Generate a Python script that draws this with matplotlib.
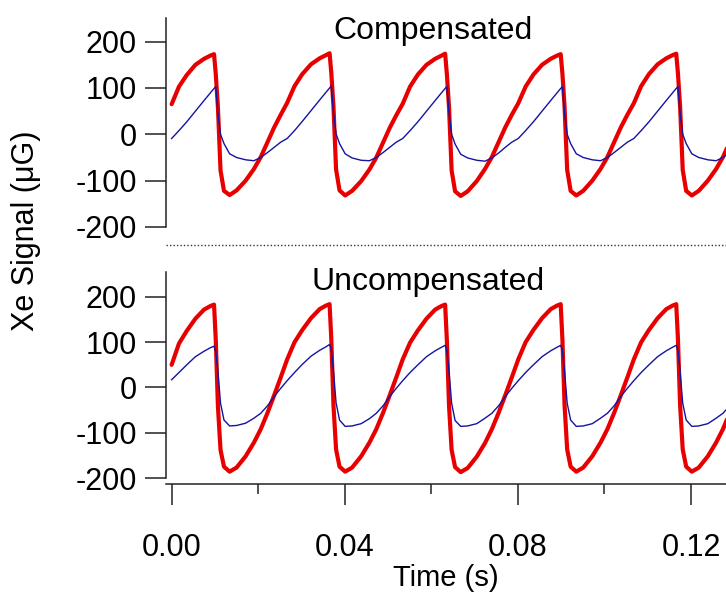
import matplotlib
matplotlib.use('Agg')
import matplotlib.pyplot as plt
from matplotlib.lines import Line2D
from matplotlib.ticker import MultipleLocator

plt.rcParams['font.family'] = ['Liberation Sans', 'DejaVu Sans']
plt.rcParams['axes.unicode_minus'] = False

# time axis (s), 5 drive cycles
t = [0.0000, 0.0017, 0.0035, 0.0055, 0.0075, 0.0090, 0.0098, 0.0102, 0.0107, 0.0113,
     0.0121, 0.0134, 0.0150, 0.0171, 0.0190, 0.0206, 0.0222, 0.0237, 0.0252,
     0.0267, 0.0284, 0.0302, 0.0322, 0.0342, 0.0357, 0.0365, 0.0369, 0.0374, 0.0380,
     0.0388, 0.0401, 0.0417, 0.0438, 0.0457, 0.0473, 0.0489, 0.0504, 0.0519,
     0.0534, 0.0551, 0.0569, 0.0589, 0.0609, 0.0624, 0.0632, 0.0636, 0.0641, 0.0647,
     0.0655, 0.0668, 0.0684, 0.0705, 0.0724, 0.0740, 0.0756, 0.0771, 0.0786,
     0.0801, 0.0818, 0.0836, 0.0856, 0.0876, 0.0891, 0.0899, 0.0903, 0.0908, 0.0914,
     0.0922, 0.0935, 0.0951, 0.0972, 0.0991, 0.1007, 0.1023, 0.1038, 0.1053,
     0.1068, 0.1085, 0.1103, 0.1123, 0.1143, 0.1158, 0.1166, 0.1170, 0.1175, 0.1181,
     0.1189, 0.1202, 0.1218, 0.1239, 0.1258, 0.1274, 0.1290]

# Compensated (uG)
comp_red = [65, 103, 128, 150, 163, 170, 173, 130, 58, -78,
            -122, -131, -121, -100, -75, -49, -16, 15, 42,
            68, 104, 130, 151, 164, 171, 175, 132, 60, -76,
            -121, -132, -122, -101, -76, -50, -17, 14, 41,
            66, 103, 129, 150, 163, 170, 174, 130, 58, -78,
            -123, -133, -123, -101, -75, -49, -16, 15, 42,
            67, 103, 129, 150, 163, 170, 173, 131, 59, -77,
            -122, -132, -122, -100, -75, -49, -16, 15, 42,
            67, 104, 130, 151, 164, 171, 174, 131, 59, -77,
            -122, -132, -122, -100, -75, -49, -16]
comp_blue = [-9, 8, 27, 50, 73, 90, 99, 103, 45, 0,
             -20, -42, -50, -55, -57, -50, -39, -28, -17,
             -9, 8, 28, 51, 74, 91, 100, 104, 46, 1,
             -20, -42, -51, -56, -57, -50, -39, -28, -17,
             -9, 8, 27, 50, 73, 90, 99, 103, 45, 0,
             -21, -43, -51, -56, -58, -51, -40, -28, -17,
             -9, 8, 27, 50, 73, 90, 99, 103, 45, 0,
             -20, -42, -50, -55, -57, -50, -39, -28, -17,
             -9, 8, 27, 50, 73, 90, 99, 103, 45, 0,
             -20, -42, -50, -55, -57, -50, -39]

# Uncompensated (uG)
unc_red = [50, 97, 125, 152, 172, 180, 183, 105, -42, -138,
           -175, -186, -177, -152, -122, -92, -55, -17, 22,
           62, 100, 127, 153, 173, 181, 184, 106, -40, -137,
           -175, -186, -177, -152, -122, -92, -55, -17, 22,
           62, 99, 126, 152, 172, 180, 183, 105, -41, -138,
           -176, -187, -178, -153, -123, -92, -55, -17, 22,
           62, 100, 127, 153, 173, 181, 184, 106, -40, -137,
           -175, -186, -177, -152, -122, -92, -55, -17, 22,
           62, 100, 127, 153, 173, 181, 184, 106, -40, -137,
           -175, -186, -177, -152, -122, -92, -55]
unc_blue = [17, 33, 50, 68, 80, 88, 91, 80, 35, -35,
            -72, -85, -84, -79, -68, -57, -40, -20, -2,
            15, 33, 51, 69, 82, 90, 95, 84, 36, -34,
            -72, -86, -85, -80, -69, -57, -40, -20, -2,
            15, 33, 50, 68, 81, 89, 93, 82, 35, -35,
            -73, -86, -85, -80, -68, -57, -40, -20, -2,
            15, 33, 50, 68, 81, 89, 93, 82, 35, -35,
            -72, -86, -85, -80, -68, -57, -40, -20, -2,
            15, 33, 50, 68, 81, 89, 93, 82, 35, -35,
            -72, -86, -85, -80, -68, -57, -40]

y_ticks = [-200, -100, 0, 100, 200]
x_ticks = [0.00, 0.04, 0.08, 0.12]
x_labels = ['0.00', '0.04', '0.08', '0.12']

RED = '#e80000'
BLUE = '#1414a0'
AXC = '#222222'

fig = plt.figure(figsize=(7.26, 5.97), dpi=100)
W, H = 726, 597

ax_top = fig.add_axes([166 / W, 1 - 227 / H, 560 / W, 209 / H])
ax_bot = fig.add_axes([166 / W, 1 - 478 / H, 560 / W, 206 / H], sharex=ax_top)

for ax, red, blue, ytop in [(ax_top, comp_red, comp_blue, 251), (ax_bot, unc_red, unc_blue, 255)]:
    ax.plot(t, red, color=RED, lw=3.0, zorder=2, solid_capstyle='round')
    ax.plot(t, blue, color=BLUE, lw=1.0, zorder=3)
    ax.set_ylim(-200, ytop)
    ax.set_yticks(y_ticks)
    ax.spines['top'].set_visible(False)
    ax.spines['right'].set_visible(False)
    ax.spines['left'].set_color(AXC)
    ax.spines['left'].set_linewidth(1.1)
    ax.tick_params(axis='y', direction='out', length=15, width=1.1, color=AXC,
                   labelsize=22, pad=6)

ax_top.set_xlim(-0.0013, 0.1281)
ax_top.spines['bottom'].set_visible(False)
ax_top.tick_params(axis='x', which='both', bottom=False, labelbottom=False)

ax_bot.spines['bottom'].set_position(('outward', 4.5))
ax_bot.spines['bottom'].set_color(AXC)
ax_bot.spines['bottom'].set_linewidth(1.1)
ax_bot.set_xticks(x_ticks)
ax_bot.set_xticklabels(x_labels)
ax_bot.xaxis.set_minor_locator(MultipleLocator(0.02))
ax_bot.tick_params(axis='x', which='major', direction='out', length=15, width=1.1,
                   color=AXC, labelsize=22, pad=20)
ax_bot.tick_params(axis='x', which='minor', direction='out', length=7.5, width=1.1,
                   color=AXC)

# panel titles
fig.text(433 / W, 1 - 39 / H, 'Compensated', ha='center', va='baseline', fontsize=23)
fig.text(428 / W, 1 - 290 / H, 'Uncompensated', ha='center', va='baseline', fontsize=23)

# dotted separator between panels
fig.add_artist(Line2D([166 / W, 1.0], [1 - 245 / H, 1 - 245 / H], transform=fig.transFigure,
                      color='#333333', lw=1.0, linestyle=(0, (1, 1.5))))

fig.text(26 / W, 1 - 231 / H, 'Xe Signal (\u03bcG)', rotation=90, ha='center', va='center',
         fontsize=22)
fig.text(446 / W, 1 - 578 / H, 'Time (s)', ha='center', va='center', fontsize=21)

fig.savefig('out.png', dpi=100)
